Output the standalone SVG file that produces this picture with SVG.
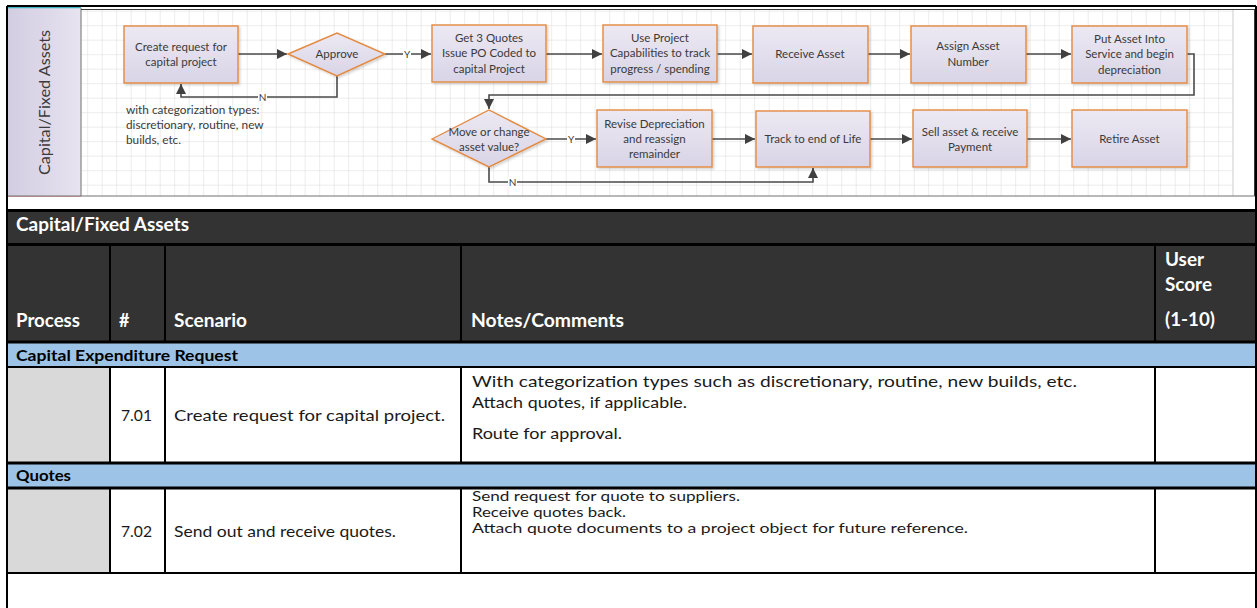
<svg xmlns="http://www.w3.org/2000/svg" width="1257" height="608" viewBox="0 0 1257 608">
  <style>
    .box { fill: url(#boxFill); stroke: #e4893f; stroke-width: 1.4; filter: url(#shade); }
    .bt { font-family: Lato, "Liberation Sans", sans-serif; font-size: 11.5px; fill: #3a3a3a; text-anchor: middle; }
    .note { font-family: Lato, "Liberation Sans", sans-serif; font-size: 11.8px; fill: #3a3a3a; }
    .yn { font-family: Lato, "Liberation Sans", sans-serif; font-size: 10px; fill: #3a3a3a; text-anchor: middle; }
    .wire { fill: none; stroke: #4a4a4a; stroke-width: 1.6; }
    .lane { font-family: Lato, "Liberation Sans", sans-serif; font-size: 16.2px; fill: #3a3a3a; text-anchor: middle; }
    .hd { font-family: Lato, "Liberation Sans", sans-serif; font-size: 18px; font-weight: bold; fill: #ffffff; }
    .band { font-family: Lato, "Liberation Sans", sans-serif; font-size: 15.5px; font-weight: bold; fill: #000000; }
    .cell { font-family: Lato, "Liberation Sans", sans-serif; font-size: 16px; fill: #1a1a1a; }
    .tight { font-size: 13.3px; }
    .rule { stroke: #000000; stroke-width: 2; }
    .thick { stroke: #000000; stroke-width: 3; }
  </style>
  <defs>
    <linearGradient id="boxFill" x1="0" y1="0" x2="0" y2="1">
      <stop offset="0" stop-color="#ece9f3"/>
      <stop offset="1" stop-color="#d9d4e6"/>
    </linearGradient>
    <linearGradient id="laneFill" x1="0" y1="0" x2="1" y2="0">
      <stop offset="0" stop-color="#d3cde2"/>
      <stop offset="1" stop-color="#e7e3ef"/>
    </linearGradient>
    <pattern id="grid" x="87.2" y="10.7" width="14.5" height="14.5" patternUnits="userSpaceOnUse">
      <path d="M0 0 H14.5 M0 0 V14.5" fill="none" stroke="#d6d6d6" stroke-width="0.9"/>
    </pattern>
    <filter id="shade" x="-10%" y="-10%" width="125%" height="130%">
      <feDropShadow dx="1.5" dy="1.5" stdDeviation="1" flood-color="#000000" flood-opacity="0.18"/>
    </filter>
    <marker id="arrow" viewBox="0 0 10 10" refX="10" refY="5" markerWidth="11" markerHeight="10" markerUnits="userSpaceOnUse" orient="auto">
      <path d="M0 0 L10 5 L0 10 Z" fill="#404040"/>
    </marker>
  </defs>

  <rect width="1257" height="608" fill="#ffffff"/>

  <!-- swimlane drawing -->
  <g id="swimlane">
    <rect x="81" y="9" width="1152" height="187" fill="url(#grid)"/>
    <line x1="1233" y1="9" x2="1233" y2="196" stroke="#d0d0d0" stroke-width="1"/>
    <rect x="8" y="8" width="73" height="188" fill="url(#laneFill)"/>
    <line x1="81" y1="8" x2="81" y2="196" stroke="#9a9a9a" stroke-width="1.5"/>
    <line x1="8" y1="7.5" x2="81" y2="7.5" stroke="#3fb6c0" stroke-width="1.5"/>
    <line x1="8" y1="196.5" x2="81" y2="196.5" stroke="#e8a0a0" stroke-width="1.2"/>
    <line x1="7" y1="196" x2="1256" y2="196" stroke="#707070" stroke-width="1"/>
    <line x1="7" y1="6" x2="1256" y2="6" stroke="#000000" stroke-width="2"/>
    <line x1="81" y1="9.5" x2="1256" y2="9.5" stroke="#3a3a3a" stroke-width="1"/>
    <line x1="1254.5" y1="9" x2="1254.5" y2="196" stroke="#3a3a3a" stroke-width="1"/>
    <text class="lane" transform="translate(50 102.5) rotate(-90)">Capital/Fixed Assets</text>
  </g>

  <!-- connectors -->
  <g id="connectors">
    <path class="wire" d="M238 54 H287" marker-end="url(#arrow)"/>
    <path class="wire" d="M385 54 H431" marker-end="url(#arrow)"/>
    <path class="wire" d="M546 54 H602" marker-end="url(#arrow)"/>
    <path class="wire" d="M717 54 H752" marker-end="url(#arrow)"/>
    <path class="wire" d="M868 54 H910" marker-end="url(#arrow)"/>
    <path class="wire" d="M1026 54 H1071" marker-end="url(#arrow)"/>
    <path class="wire" d="M1187 54 H1194 V95 H489 V109" marker-end="url(#arrow)"/>
    <path class="wire" d="M337 76 V97 H181 V84" marker-end="url(#arrow)"/>
    <path class="wire" d="M546 139 H596" marker-end="url(#arrow)"/>
    <path class="wire" d="M712 139 H755" marker-end="url(#arrow)"/>
    <path class="wire" d="M870 139 H912" marker-end="url(#arrow)"/>
    <path class="wire" d="M1027 139 H1071" marker-end="url(#arrow)"/>
    <path class="wire" d="M489 167 V182 H813 V168" marker-end="url(#arrow)"/>
    <rect x="403" y="49" width="8" height="10" fill="#ffffff"/>
    <text class="yn" x="407" y="57.5">Y</text>
    <rect x="258" y="92" width="9" height="10" fill="#ffffff"/>
    <text class="yn" x="262.5" y="100.5">N</text>
    <rect x="567" y="134" width="8" height="10" fill="#ffffff"/>
    <text class="yn" x="571" y="142.5">Y</text>
    <rect x="508" y="177" width="9" height="10" fill="#ffffff"/>
    <text class="yn" x="512.5" y="185.5">N</text>
  </g>

  <!-- process steps -->
  <g id="create-request">
    <rect class="box" x="124" y="26" width="114" height="57"/>
    <text class="bt" x="181" y="50.5">Create request for</text>
    <text class="bt" x="181" y="65.5">capital project</text>
  </g>
  <g id="approve">
    <polygon class="box" points="288,54 337,33 385,54 337,76"/>
    <text class="bt" x="337" y="58">Approve</text>
  </g>
  <g id="get-quotes">
    <rect class="box" x="432" y="25" width="114" height="57"/>
    <text class="bt" x="489" y="42">Get 3 Quotes</text>
    <text class="bt" x="489" y="57">Issue PO Coded to</text>
    <text class="bt" x="489" y="73">capital Project</text>
  </g>
  <g id="track-progress">
    <rect class="box" x="603" y="25" width="114" height="57"/>
    <text class="bt" x="660" y="42">Use Project</text>
    <text class="bt" x="660" y="57">Capabilities to track</text>
    <text class="bt" x="660" y="73">progress / spending</text>
  </g>
  <g id="receive-asset">
    <rect class="box" x="753" y="26" width="115" height="57"/>
    <text class="bt" x="810" y="58">Receive Asset</text>
  </g>
  <g id="assign-number">
    <rect class="box" x="911" y="26" width="115" height="57"/>
    <text class="bt" x="968" y="50">Assign Asset</text>
    <text class="bt" x="968" y="65.5">Number</text>
  </g>
  <g id="put-in-service">
    <rect class="box" x="1072" y="26" width="115" height="57"/>
    <text class="bt" x="1129.5" y="43">Put Asset Into</text>
    <text class="bt" x="1129.5" y="58">Service and begin</text>
    <text class="bt" x="1129.5" y="73.5">depreciation</text>
  </g>
  <g id="move-change">
    <polygon class="box" points="432,139 489,110 546,139 489,167"/>
    <text class="bt" x="489" y="135.5">Move or change</text>
    <text class="bt" x="489" y="150.5">asset value?</text>
  </g>
  <g id="revise-depreciation">
    <rect class="box" x="597" y="110" width="115" height="57"/>
    <text class="bt" x="654.5" y="128">Revise Depreciation</text>
    <text class="bt" x="654.5" y="143">and reassign</text>
    <text class="bt" x="654.5" y="158">remainder</text>
  </g>
  <g id="track-end-of-life">
    <rect class="box" x="756" y="111" width="114" height="56"/>
    <text class="bt" x="813" y="143">Track to end of Life</text>
  </g>
  <g id="sell-asset">
    <rect class="box" x="913" y="110" width="114" height="57"/>
    <text class="bt" x="970" y="135.5">Sell asset &amp; receive</text>
    <text class="bt" x="970" y="150.5">Payment</text>
  </g>
  <g id="retire-asset">
    <rect class="box" x="1072" y="110" width="115" height="57"/>
    <text class="bt" x="1129.5" y="142.5">Retire Asset</text>
  </g>
  <g id="category-note">
    <text class="note" x="126" y="114">with categorization types:</text>
    <text class="note" x="126" y="129">discretionary, routine, new</text>
    <text class="note" x="126" y="144">builds, etc.</text>
  </g>

  <!-- scenario table -->
  <g id="table">
    <rect x="7" y="210" width="1249" height="132" fill="#333333"/>
    <rect x="7" y="342" width="1249" height="25" fill="#9dc3e6"/>
    <rect x="7" y="463" width="1249" height="25" fill="#9dc3e6"/>
    <rect x="8" y="367" width="101" height="96" fill="#d9d9d9"/>
    <rect x="8" y="488" width="101" height="85" fill="#d9d9d9"/>

    <line class="thick" x1="7" y1="210.5" x2="1256" y2="210.5"/>
    <line class="thick" x1="7" y1="244.5" x2="1256" y2="244.5"/>
    <line class="thick" x1="7" y1="342" x2="1256" y2="342"/>
    <line class="rule" x1="7" y1="367" x2="1256" y2="367"/>
    <line class="thick" x1="7" y1="463" x2="1256" y2="463"/>
    <line class="thick" x1="7" y1="488" x2="1256" y2="488"/>
    <line class="rule" x1="7" y1="573" x2="1256" y2="573"/>

    <line class="rule" x1="110" y1="245" x2="110" y2="342"/>
    <line class="rule" x1="165" y1="245" x2="165" y2="342"/>
    <line class="rule" x1="461" y1="245" x2="461" y2="342"/>
    <line class="rule" x1="1155" y1="245" x2="1155" y2="342"/>
    <line class="rule" x1="110" y1="367" x2="110" y2="463"/>
    <line class="rule" x1="165" y1="367" x2="165" y2="463"/>
    <line class="rule" x1="461" y1="367" x2="461" y2="463"/>
    <line class="rule" x1="1155" y1="367" x2="1155" y2="463"/>
    <line class="rule" x1="110" y1="488" x2="110" y2="573"/>
    <line class="rule" x1="165" y1="488" x2="165" y2="573"/>
    <line class="rule" x1="461" y1="488" x2="461" y2="573"/>
    <line class="rule" x1="1155" y1="488" x2="1155" y2="573"/>

    <line class="rule" x1="7" y1="6" x2="7" y2="608"/>
    <line class="rule" x1="1256" y1="6" x2="1256" y2="608"/>

    <text class="hd" x="16" y="231" textLength="173" lengthAdjust="spacingAndGlyphs">Capital/Fixed Assets</text>
    <text class="hd" x="16" y="327" textLength="64" lengthAdjust="spacingAndGlyphs">Process</text>
    <text class="hd" x="119" y="327">#</text>
    <text class="hd" x="174" y="327" textLength="73" lengthAdjust="spacingAndGlyphs">Scenario</text>
    <text class="hd" x="471" y="327" textLength="153" lengthAdjust="spacingAndGlyphs">Notes/Comments</text>
    <text class="hd" x="1165" y="266" textLength="39" lengthAdjust="spacingAndGlyphs">User</text>
    <text class="hd" x="1165" y="291" textLength="47" lengthAdjust="spacingAndGlyphs">Score</text>
    <text class="hd" x="1165" y="326" textLength="50" lengthAdjust="spacingAndGlyphs">(1-10)</text>

    <text class="band" x="16" y="361" textLength="222" lengthAdjust="spacingAndGlyphs">Capital Expenditure Request</text>
    <text class="cell" x="121" y="421" textLength="31" lengthAdjust="spacingAndGlyphs">7.01</text>
    <text class="cell" x="174" y="421" textLength="271" lengthAdjust="spacingAndGlyphs">Create request for capital project.</text>
    <text class="cell" x="472" y="387" textLength="605" lengthAdjust="spacingAndGlyphs">With categorization types such as discretionary, routine, new builds, etc.</text>
    <text class="cell" x="472" y="408" textLength="215" lengthAdjust="spacingAndGlyphs">Attach quotes, if applicable.</text>
    <text class="cell" x="472" y="439" textLength="150" lengthAdjust="spacingAndGlyphs">Route for approval.</text>

    <text class="band" x="16" y="481" textLength="55" lengthAdjust="spacingAndGlyphs">Quotes</text>
    <text class="cell" x="121" y="537" textLength="31" lengthAdjust="spacingAndGlyphs">7.02</text>
    <text class="cell" x="174" y="537" textLength="222" lengthAdjust="spacingAndGlyphs">Send out and receive quotes.</text>
    <text class="cell tight" x="472" y="501" textLength="268" lengthAdjust="spacingAndGlyphs">Send request for quote to suppliers.</text>
    <text class="cell tight" x="472" y="517" textLength="154" lengthAdjust="spacingAndGlyphs">Receive quotes back.</text>
    <text class="cell tight" x="472" y="533" textLength="496" lengthAdjust="spacingAndGlyphs">Attach quote documents to a project object for future reference.</text>
  </g>
</svg>
